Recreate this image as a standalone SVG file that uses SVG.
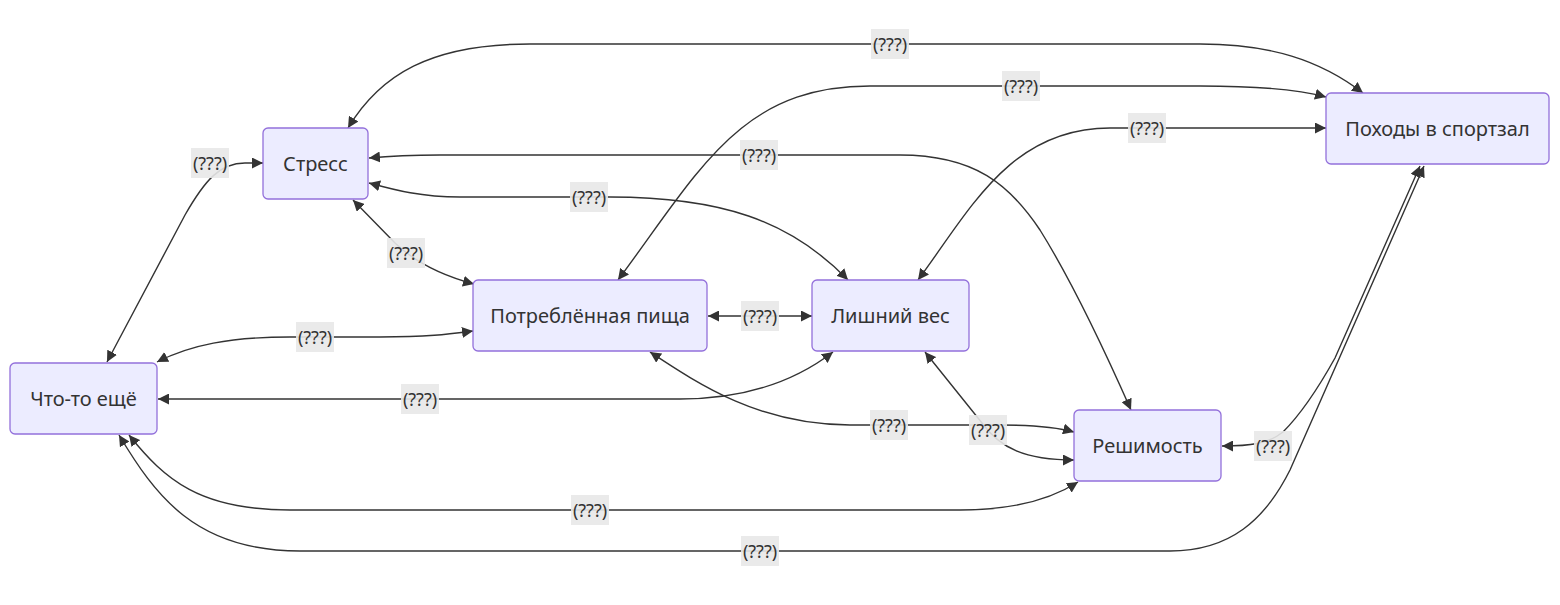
<svg xmlns="http://www.w3.org/2000/svg" width="1560" height="605" viewBox="0 0 1560 605">
<style>
.node rect{fill:#ECECFF;stroke:#9370DB;stroke-width:1.3}
.node text{font-family:"Noto Sans","DejaVu Sans",sans-serif;font-size:20px;fill:#333;text-anchor:middle;dominant-baseline:central}
.edges path{fill:none;stroke:#333;stroke-width:1.4;marker-start:url(#arr);marker-end:url(#arr)}
.lbl rect{fill:#e8e8e8;opacity:0.9}
.lbl text{font-family:"Noto Sans","DejaVu Sans",sans-serif;font-size:18px;fill:#333;text-anchor:middle;dominant-baseline:central}
</style>
<defs>
<marker id="arr" viewBox="0 0 10 10" refX="10" refY="5" markerUnits="userSpaceOnUse" markerWidth="11" markerHeight="11" orient="auto-start-reverse">
<path d="M0,0 L10,5 L0,10 z" fill="#333"/>
</marker>
</defs>
<rect width="1560" height="605" fill="#fff"/>
<g class="edges" id="connectors">
<path d="M348,128 C380,75 430,44 530,44 L1200,44 C1270,44 1320,60 1363,93"/>
<path d="M618,280 C700,170 740,86 870,86 L1200,86 C1260,86 1300,90 1326,97"/>
<path d="M918,280 C970,210 1010,128 1110,128 L1326,128"/>
<path d="M369,158 C390,156 410,155 440,155 L900,155 C975,155 1010,185 1040,230 C1070,278 1100,340 1131,410"/>
<path d="M369,183 C395,190 420,197 460,197 L610,197 C720,197 790,220 848,280"/>
<path d="M353,200 L395,243 C415,262 440,275 474,284"/>
<path d="M107,362 L185,215 C205,180 220,163 245,163 L263,163"/>
<path d="M157,362 C190,345 230,337 290,337 L380,337 C430,337 450,334 473,331"/>
<path d="M158,399 L680,399 C740,399 790,385 833,352"/>
<path d="M708,316 L812,316"/>
<path d="M650,352 C700,385 760,425 850,425 L1000,425 C1040,425 1060,428 1074,432"/>
<path d="M925,352 L982,423 C1000,448 1025,460 1074,460"/>
<path d="M1222,446 C1250,446 1268,444 1283,432 C1300,415 1320,385 1335,358 L1420,166"/>
<path d="M129,435 C165,480 200,510 290,510 L960,510 C1010,510 1050,500 1078,482"/>
<path d="M119,435 C155,495 195,551 300,551 L1170,551 C1230,551 1265,520 1290,470 L1424,166"/>
</g>
<g id="edge-labels">
<g class="lbl" transform="translate(890,44)"><rect x="-19" y="-15" width="38" height="30"/><text>(???)</text></g>
<g class="lbl" transform="translate(1021,86)"><rect x="-19" y="-15" width="38" height="30"/><text>(???)</text></g>
<g class="lbl" transform="translate(1147,128)"><rect x="-19" y="-15" width="38" height="30"/><text>(???)</text></g>
<g class="lbl" transform="translate(759,155)"><rect x="-19" y="-15" width="38" height="30"/><text>(???)</text></g>
<g class="lbl" transform="translate(589,197)"><rect x="-19" y="-15" width="38" height="30"/><text>(???)</text></g>
<g class="lbl" transform="translate(406,253)"><rect x="-19" y="-15" width="38" height="30"/><text>(???)</text></g>
<g class="lbl" transform="translate(210,163)"><rect x="-19" y="-15" width="38" height="30"/><text>(???)</text></g>
<g class="lbl" transform="translate(315,337)"><rect x="-19" y="-15" width="38" height="30"/><text>(???)</text></g>
<g class="lbl" transform="translate(420,399)"><rect x="-19" y="-15" width="38" height="30"/><text>(???)</text></g>
<g class="lbl" transform="translate(760,316)"><rect x="-19" y="-15" width="38" height="30"/><text>(???)</text></g>
<g class="lbl" transform="translate(889,425)"><rect x="-19" y="-15" width="38" height="30"/><text>(???)</text></g>
<g class="lbl" transform="translate(988,430)"><rect x="-19" y="-15" width="38" height="30"/><text>(???)</text></g>
<g class="lbl" transform="translate(1273,446)"><rect x="-19" y="-15" width="38" height="30"/><text>(???)</text></g>
<g class="lbl" transform="translate(590,510)"><rect x="-19" y="-15" width="38" height="30"/><text>(???)</text></g>
<g class="lbl" transform="translate(760,551)"><rect x="-19" y="-15" width="38" height="30"/><text>(???)</text></g>
</g>
<g class="node" id="stress"><rect x="263" y="128" width="105" height="71" rx="5"/><text x="315.5" y="163.5">Стресс</text></g>
<g class="node" id="other"><rect x="10" y="363" width="147" height="71" rx="5"/><text x="83.5" y="398.5">Что-то ещё</text></g>
<g class="node" id="food"><rect x="473" y="280" width="234" height="71" rx="5"/><text x="590" y="315.5">Потреблённая пища</text></g>
<g class="node" id="weight"><rect x="812" y="280" width="157" height="71" rx="5"/><text x="890.5" y="315.5">Лишний вес</text></g>
<g class="node" id="resolve"><rect x="1074" y="410" width="147" height="71" rx="5"/><text x="1147.5" y="445.5">Решимость</text></g>
<g class="node" id="gym"><rect x="1326" y="93" width="223" height="71" rx="5"/><text x="1437.5" y="128.5">Походы в спортзал</text></g>
</svg>
